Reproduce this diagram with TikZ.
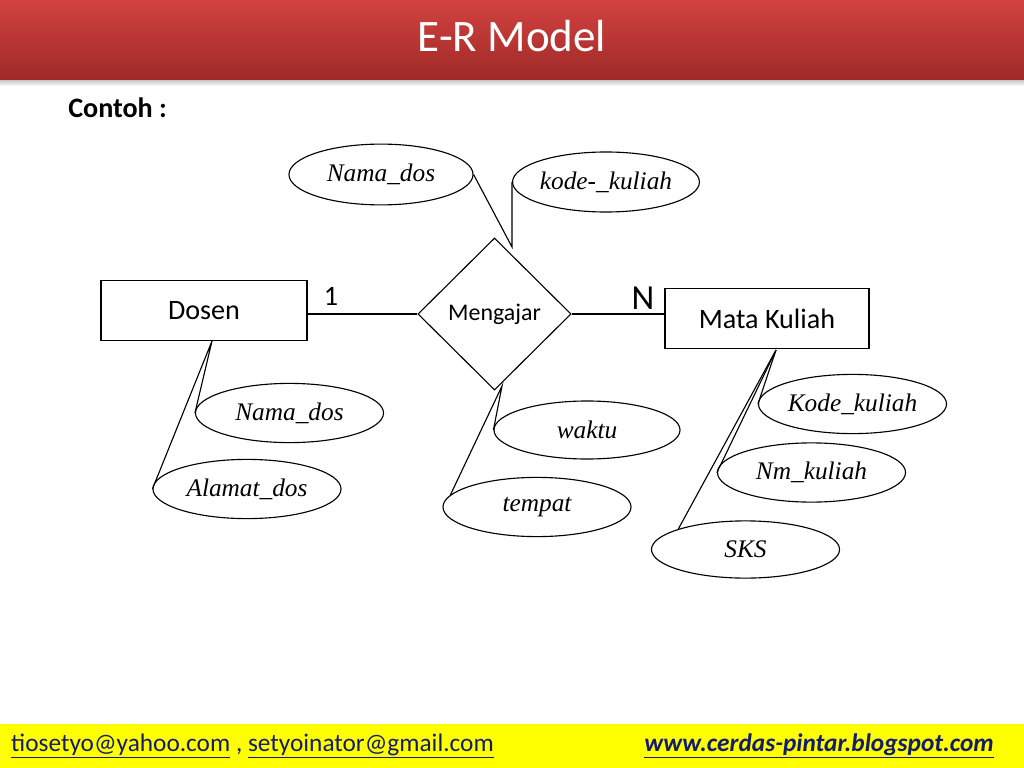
\documentclass[tikz,border=0pt]{standalone}
\usepackage{fontspec}
\newfontfamily\calibri{Carlito}
\newfontfamily\attrfont{Liberation Serif}
\usetikzlibrary{shapes.geometric, positioning}
\definecolor{titleTop}{RGB}{210, 66, 64}
\definecolor{titleBot}{RGB}{158, 42, 40}
\definecolor{footYellow}{RGB}{255, 255, 0}
\definecolor{linkBlue}{RGB}{20, 28, 110}

\begin{document}
\begin{tikzpicture}[x=0.025cm, y=-0.025cm, line width=0.8pt,
  entity/.style={draw, rectangle, minimum width=5.15cm, minimum height=1.48cm, inner sep=0pt,
    font=\calibri\fontsize{20}{24}\selectfont},
  relation/.style={draw, diamond, minimum width=3.83cm, minimum height=3.8cm, inner sep=0pt,
    font=\calibri\fontsize{17}{20}\selectfont},
  attr/.style={draw, ellipse, minimum width=4.7cm, minimum height=1.48cm, inner sep=0pt,
    font=\attrfont\itshape\fontsize{18}{22}\selectfont},
  footnote/.style={font=\calibri\fontsize{18}{22}\selectfont, text=linkBlue}]
  \useasboundingbox (0,0) rectangle (1024,768);

  % title bar
  \shade[top color=gray!60, bottom color=white] (0,78) rectangle (1024,86);
  \shade[top color=titleTop, bottom color=titleBot] (0,0) rectangle (1024,80);
  \node[font=\calibri\fontsize{32}{38}\selectfont, text=white] (title) at (512,36) {E-R Model};
  \node[font=\calibri\bfseries\fontsize{20}{24}\selectfont, anchor=west] (contoh) at (63,108) {Contoh :};

  % entities and relation
  \node[entity] (dosen) at (204,310.5) {Dosen};
  \node[entity, minimum width=5.1cm] (matkul) at (767,318.5) {Mata Kuliah};
  \node[relation] (mengajar) at (494.5,314) {Mengajar};

  \draw (dosen.east |- mengajar.west) -- (mengajar.west);
  \draw (mengajar.east) -- (mengajar.east -| matkul.west);
  \node[font=\calibri\fontsize{20}{24}\selectfont] (card1) at (331,296) {1};
  \node[font=\calibri\fontsize{25}{30}\selectfont] (cardN) at (643,298) {N};

  % attributes
  \node[attr, minimum width=4.6cm, minimum height=1.52cm] (namadosA) at (381,174.5) {Nama\_dos};
  \node[attr, minimum width=4.3cm, minimum height=1.5cm] (kodeA) at (606,182) {kode-\_kuliah};
  \node[attr] (namadosB) at (289.5,413) {Nama\_dos};
  \node[attr] (alamat) at (247,489) {Alamat\_dos};
  \node[attr, minimum width=4.65cm, minimum height=1.45cm] (waktu) at (587,430) {waktu};
  \node[attr] (tempat) at (537,507) {tempat};
  \node[attr] (kodekul) at (852.5,404) {Kode\_kuliah};
  \node[attr] (nmkul) at (811.5,472.5) {Nm\_kuliah};
  \node[attr, minimum height=1.43cm] (sks) at (745.5,549.5) {SKS};

  \coordinate (mengajarTop) at (512,247);
  \coordinate (mengajarFoot) at (502,386);
  \coordinate (dosenFoot) at (212,341);
  \coordinate (matkulFoot) at (776,350);

  \draw (namadosA.east) -- (mengajarTop) -- (kodeA.west);
  \draw (namadosB.west) -- (dosenFoot) -- (alamat.west);
  \draw (waktu.west) -- (mengajarFoot) -- (tempat.172);
  \draw (matkulFoot) -- (kodekul.west);
  \draw (matkulFoot) -- (nmkul.west);
  \draw (matkulFoot) -- (sks.163);

  % footer
  \fill[footYellow] (0,724) rectangle (1024,768);
  \node[footnote, anchor=west] (mails) at (6,746)
    {\underline{tiosetyo@yahoo.com}\ ,\ \underline{setyoinator@gmail.com}};
  \node[footnote, anchor=east, font=\calibri\bfseries\itshape\fontsize{18}{22}\selectfont] (blog) at (999,746)
    {\underline{www.cerdas-pintar.blogspot.com}};
\end{tikzpicture}
\end{document}
